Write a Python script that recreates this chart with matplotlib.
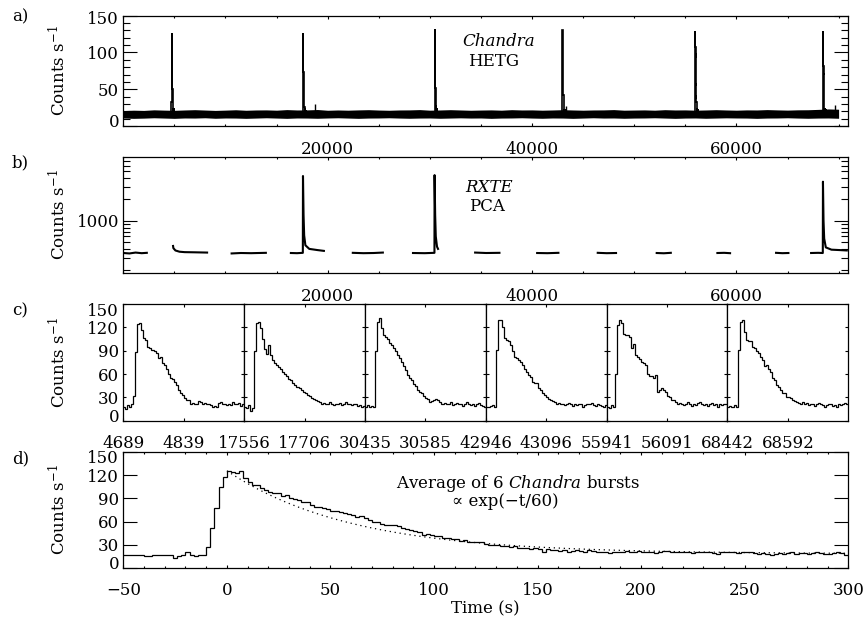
import matplotlib
matplotlib.use("Agg")
import matplotlib.pyplot as plt
import numpy as np
from matplotlib.ticker import MultipleLocator, FixedLocator, FixedFormatter, NullFormatter, NullLocator
from matplotlib.transforms import ScaledTranslation

plt.rcParams["font.family"] = ["DejaVu Serif", "DejaVu Sans"]
plt.rcParams["mathtext.fontset"] = "dejavuserif"
plt.rcParams["font.size"] = 12

W, H = 866, 619

# ---- panel a: Chandra HETG light curve (quiescent band envelope, every 1000 s)
band_t = np.arange(0, 70001, 1000)
band_hi = [21.0, 21.5, 21.2, 22.0, 21.6, 21.3, 21.8, 22.2, 21.7, 21.2,
           21.6, 22.1, 21.4, 21.8, 21.9, 21.5, 22.3, 21.8, 21.9, 22.4,
           21.4, 21.8, 21.5, 21.9, 22.2, 21.7, 21.4, 21.8, 21.9, 22.3,
           21.5, 21.8, 22.2, 21.8, 21.4, 21.7, 21.9, 21.5, 22.2, 21.8,
           21.9, 21.5, 21.8, 22.2, 21.8, 21.5, 21.8, 21.9, 22.3, 21.5,
           21.7, 21.9, 21.5, 22.2, 21.8, 21.9, 21.5, 21.8, 22.2, 21.8,
           21.5, 21.9, 21.8, 22.3, 21.9, 21.6, 22.0, 22.1, 22.6, 23.2,
           22.8]
band_lo = [10.8, 10.4, 10.7, 11.2, 10.8, 10.4, 10.9, 10.8, 11.2, 10.5,
           10.9, 10.8, 10.4, 10.8, 11.2, 10.8, 10.4, 10.9, 10.8, 10.5,
           10.9, 11.2, 10.8, 10.4, 10.8, 10.9, 11.2, 10.8, 10.5, 10.8,
           10.9, 10.5, 10.8, 11.1, 10.8, 10.9, 10.4, 10.8, 10.9, 11.2,
           10.8, 10.5, 10.9, 10.8, 10.4, 10.8, 11.2, 10.8, 10.9, 10.5,
           10.8, 10.9, 11.2, 10.8, 10.4, 10.8, 10.9, 10.5, 10.8, 11.1,
           10.9, 10.8, 10.4, 10.8, 10.9, 11.2, 10.8, 10.5, 10.8, 10.9,
           10.5]
spike_t = [18760, 43300, 69600]
spike_c = [30, 27, 28]

# ---- panel c: the six Chandra bursts, 5 s bins over 300 s windows
burst_starts = [4689, 17556, 30435, 42946, 55941, 68442]
burst1 = [18, 15, 20, 17, 22, 32, 88, 124, 126, 117,
          106, 104, 95, 93, 91, 90, 87, 80, 82, 74,
          72, 66, 60, 55, 54, 50, 46, 40, 36, 33,
          29, 27, 26, 22, 23, 21, 22, 25, 24, 22,
          23, 21, 22, 20, 18, 19, 18, 23, 24, 22,
          21, 20, 22, 20, 24, 22, 21, 23, 19, 21]
burst2 = [18, 16, 20, 12, 16, 89, 125, 127, 119, 105,
          92, 86, 97, 84, 78, 74, 72, 69, 66, 63,
          60, 58, 54, 52, 48, 46, 43, 42, 40, 37,
          35, 33, 32, 29, 28, 26, 25, 24, 22, 23,
          21, 22, 24, 21, 20, 22, 21, 23, 20, 22,
          24, 21, 22, 20, 21, 22, 19, 20, 18, 19]
burst3 = [18, 20, 17, 19, 18, 89, 127, 132, 119, 110,
          108, 105, 100, 97, 93, 89, 84, 80, 76, 70,
          65, 59, 55, 52, 47, 44, 39, 37, 35, 32,
          29, 28, 24, 25, 27, 28, 26, 24, 22, 23,
          21, 22, 24, 20, 21, 23, 22, 21, 19, 22,
          24, 22, 20, 21, 19, 22, 23, 20, 19, 18]
burst4 = [18, 17, 19, 20, 18, 91, 130, 130, 121, 106,
          104, 102, 97, 90, 82, 80, 78, 76, 71, 67,
          62, 59, 56, 50, 49, 48, 42, 39, 35, 33,
          31, 28, 26, 25, 24, 22, 23, 21, 22, 20,
          21, 23, 22, 19, 21, 20, 22, 21, 18, 20,
          22, 21, 23, 20, 19, 21, 20, 19, 18, 20]
burst5 = [18, 16, 20, 17, 60, 123, 129, 125, 112, 110,
          110, 108, 93, 99, 84, 82, 79, 76, 74, 72,
          60, 58, 57, 55, 59, 37, 40, 42, 39, 37,
          32, 30, 27, 26, 24, 22, 23, 21, 20, 22,
          24, 21, 19, 22, 20, 23, 24, 21, 20, 22,
          19, 21, 23, 20, 22, 18, 21, 20, 22, 21]
burst6 = [17, 19, 18, 20, 18, 91, 127, 129, 114, 104,
          103, 102, 95, 93, 90, 87, 82, 78, 70, 72,
          66, 63, 55, 52, 46, 43, 39, 36, 35, 31,
          30, 29, 27, 25, 24, 23, 22, 24, 21, 23,
          20, 22, 21, 19, 22, 23, 21, 20, 18, 20,
          22, 21, 19, 20, 18, 21, 20, 22, 23, 21]
bursts = [burst1, burst2, burst3, burst4, burst5, burst6]
burst_edges = np.arange(0, 301, 5)

# ---- panel b: RXTE PCA orbits (time, counts/s)
rxte_t = [
    [0, 600, 1200, 1800, 2300],
    [4870, 4900, 5100, 5500, 6000, 7000, 8200],
    [10600, 11500, 12500, 13950],
    [16400, 17000, 17570, 17584, 17610, 17640, 17700, 17820, 18200, 19000, 19630],
    [22460, 23500, 24500, 25400],
    [28350, 29500, 30450, 30463, 30490, 30520, 30580, 30700, 30800],
    [34430, 35500, 36810],
    [40500, 41500, 42580],
    [46430, 47300, 48220],
    [52200, 52900, 53580],
    [58140, 58800, 59380],
    [63880, 64500, 65090],
    [67310, 68000, 68455, 68470, 68495, 68525, 68590, 68750, 69300, 70100, 70800],
]
rxte_c = [
    [350, 345, 355, 348, 352],
    [440, 410, 380, 365, 360, 358, 355],
    [345, 350, 348, 352],
    [350, 348, 352, 4270, 2400, 1200, 620, 450, 400, 385, 375],
    [352, 348, 350, 355],
    [350, 348, 352, 4400, 2400, 1200, 600, 430, 400],
    [355, 350, 352],
    [350, 348, 352],
    [352, 348, 350],
    [350, 347, 352],
    [350, 352, 348],
    [352, 348, 350],
    [350, 352, 350, 3550, 2000, 1000, 560, 420, 390, 385, 380],
]

# ---- panel d: average burst, 2 s bins from -50 to 300 s
avg_edges = np.arange(-50, 301, 2)
avg_counts = [17, 17, 17, 17, 16, 15, 15, 16, 17, 17,
              17, 16, 13, 15, 17, 20, 17, 15, 17, 16,
              27, 52, 78, 105, 118, 126, 125, 123, 126, 117,
              112, 108, 107, 104, 101, 99, 97, 97, 93, 94,
              90, 89, 88, 86, 85, 82, 79, 79, 77, 76,
              74, 74, 72, 71, 70, 68, 66, 67, 64, 62,
              60, 59, 57, 55, 55, 56, 54, 52, 50, 49,
              48, 47, 43, 44, 42, 41, 41, 39, 38, 37,
              37, 35, 36, 34, 34, 33, 33, 31, 30, 30,
              29, 28, 28, 27, 28, 26, 26, 25, 24, 25,
              24, 21, 24, 23, 23, 22, 23, 21, 22, 23,
              22, 21, 23, 22, 21, 20, 21, 19, 21, 20,
              21, 22, 20, 21, 22, 21, 20, 20, 19, 21,
              22, 22, 21, 20, 21, 20, 20, 19, 20, 21,
              20, 20, 19, 18, 20, 21, 20, 20, 19, 20,
              21, 20, 19, 18, 19, 18, 17, 18, 19, 18,
              19, 20, 18, 19, 19, 18, 19, 20, 19, 18,
              18, 19, 20, 19, 17]
# exponential model, e-folding 60 s
model_tau = 60.0
model_amp = 108.0
model_base = 18.0
model_t = np.linspace(0, 300, 301)


def frac(x0, y0, x1, y1):
    return [x0 / W, 1 - y1 / H, (x1 - x0) / W, (y1 - y0) / H]


def style(ax, ylen=10, yminor=5, xlen=2.5, xminor=1.5):
    ax.tick_params(which="both", direction="in", top=True, right=True)
    ax.tick_params(axis="y", which="major", length=ylen, width=0.8, pad=3)
    ax.tick_params(axis="y", which="minor", length=yminor, width=0.8)
    ax.tick_params(axis="x", which="major", length=xlen, width=0.8, pad=10.5)
    ax.tick_params(axis="x", which="minor", length=xminor, width=0.8)
    for s in ax.spines.values():
        s.set_linewidth(0.9)


def end_labels(ax, up=5, down=4):
    labs = ax.get_yticklabels()
    labs[0].set_transform(labs[0].get_transform() + ScaledTranslation(0, up / 100, fig.dpi_scale_trans))
    labs[-1].set_transform(labs[-1].get_transform() + ScaledTranslation(0, -down / 100, fig.dpi_scale_trans))


fig = plt.figure(figsize=(W / 100, H / 100), dpi=100)
x_left, x_right = 123.3, 848.3
t_max = 70950

# a)
ax_a = fig.add_axes(frac(x_left, 15.7, x_right, 126))
ax_a.fill_between(band_t, band_lo, band_hi, color="k", lw=0)
ax_a.vlines(spike_t, 20, spike_c, color="k", lw=1)
for start, vals in zip(burst_starts, bursts):
    ax_a.stairs(vals, start + burst_edges, baseline=None, color="k", lw=1.2)
ax_a.set_xlim(0, t_max)
ax_a.set_ylim(0, 150)
ax_a.xaxis.set_major_locator(FixedLocator([20000, 40000, 60000]))
ax_a.xaxis.set_minor_locator(MultipleLocator(5000))
ax_a.yaxis.set_major_locator(FixedLocator([0, 50, 100, 150]))
ax_a.yaxis.set_minor_locator(MultipleLocator(10))
style(ax_a)
end_labels(ax_a, up=6, down=1.5)
ax_a.text(499 / W, 1 - 41.5 / H, "Chandra", transform=fig.transFigure, style="italic", ha="center", va="center")
ax_a.text(494 / W, 1 - 61 / H, "HETG", transform=fig.transFigure, ha="center", va="center")

# b)
ax_b = fig.add_axes(frac(x_left, 156.7, x_right, 273.3))
for t, c in zip(rxte_t, rxte_c):
    ax_b.plot(t, c, color="k", lw=1.5)
ax_b.set_yscale("log")
ax_b.set_xlim(0, t_max)
ax_b.set_ylim(181, 8000)
ax_b.xaxis.set_major_locator(FixedLocator([20000, 40000, 60000]))
ax_b.xaxis.set_minor_locator(MultipleLocator(5000))
ax_b.yaxis.set_major_locator(FixedLocator([1000]))
ax_b.yaxis.set_major_formatter(FixedFormatter(["1000"]))
ax_b.yaxis.set_minor_locator(FixedLocator([200, 300, 400, 500, 600, 700, 800, 900,
                                           2000, 3000, 4000, 5000, 6000, 7000]))
ax_b.yaxis.set_minor_formatter(NullFormatter())
style(ax_b)
ax_b.text(489 / W, 1 - 188 / H, "RXTE", transform=fig.transFigure, style="italic", ha="center", va="center")
ax_b.text(487 / W, 1 - 206 / H, "PCA", transform=fig.transFigure, ha="center", va="center")

# c)
sub_w = (x_right - x_left) / 6
for i, (start, vals) in enumerate(zip(burst_starts, bursts)):
    ax = fig.add_axes(frac(x_left + i * sub_w, 304, x_left + (i + 1) * sub_w, 420.7))
    ax.stairs(vals, burst_edges, baseline=None, color="k", lw=0.9)
    ax.set_xlim(0, 300)
    ax.set_ylim(0, 150)
    ax.set_xticks([0, 150])
    ax.set_xticklabels([str(start), str(start + 150)])
    ax.xaxis.set_minor_locator(NullLocator())
    ax.set_yticks([0, 30, 60, 90, 120, 150])
    ax.yaxis.set_minor_locator(NullLocator())
    style(ax, ylen=2, yminor=0, xlen=2.5)
    if i == 0:
        end_labels(ax, up=5.5, down=6)
    else:
        ax.set_yticklabels([])

# d)
ax_d = fig.add_axes(frac(x_left, 452.3, x_right, 567.7))
ax_d.stairs(avg_counts, avg_edges, baseline=None, color="k", lw=0.9)
ax_d.plot(model_t, model_base + model_amp * np.exp(-model_t / model_tau),
          color="k", lw=0.9, ls=(0, (1, 3)))
ax_d.set_xlim(-50, 300)
ax_d.set_ylim(0, 150)
ax_d.xaxis.set_major_locator(MultipleLocator(50))
ax_d.xaxis.set_minor_locator(MultipleLocator(10))
ax_d.set_yticks([0, 30, 60, 90, 120, 150])
ax_d.yaxis.set_minor_locator(NullLocator())
style(ax_d)
end_labels(ax_d, up=5, down=4.5)
ax_d.text(518 / W, 1 - 483 / H, "Average of 6 $\\mathit{Chandra}$ bursts", transform=fig.transFigure,
          ha="center", va="center")
ax_d.text(505 / W, 1 - 501 / H, "\u221d exp(\u2212t/60)", transform=fig.transFigure,
          ha="center", va="center")
fig.text(485.8 / W, 1 - 609 / H, "Time (s)", ha="center", va="center")

# y labels and panel letters
for yc in [(15.7 + 126) / 2, (156.7 + 273.3) / 2, (304 + 420.7) / 2, (452.3 + 567.7) / 2]:
    fig.text(59 / W, 1 - yc / H, "Counts s$^{-1}$", rotation=90, ha="center", va="center")
for lab, yc in zip(["a)", "b)", "c)", "d)"], [17, 163, 311, 459]):
    fig.text(12 / W, 1 - yc / H, lab, ha="left", va="center")

fig.savefig("out.png", dpi=100)
